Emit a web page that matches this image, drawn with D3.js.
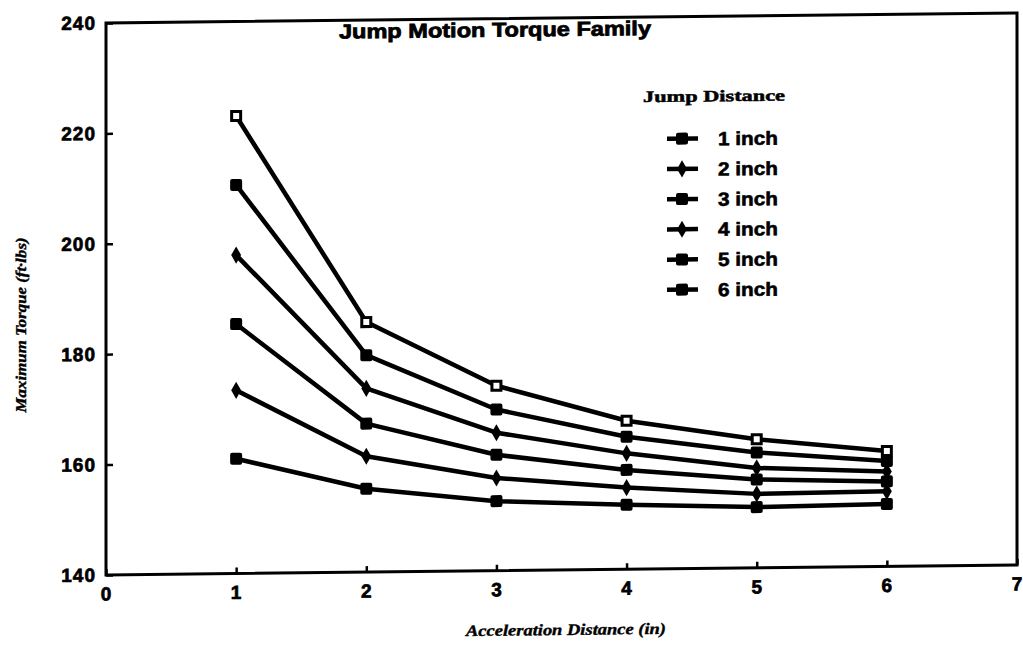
<!DOCTYPE html>
<meta charset="utf-8">
<head>
  <title>Jump Motion Torque Family</title>
  <script src="https://d3js.org/d3.v7.min.js"></script>
  <style>
    body {
      margin: 0;
      background-color: white;
    }
    .axis text {
      font-family: "Liberation Sans", Arial, sans-serif;
      font-weight: bold;
      font-size: 19px;
      letter-spacing: 1px;
      fill: black;
      stroke: black;
      stroke-width: 0.7px;
    }
    .axis line {
      stroke: black;
      stroke-width: 2.5px;
    }
    .axis path {
      display: none;
    }
    .serie {
      fill: none;
      stroke: black;
      stroke-width: 4.5px;
      stroke-linejoin: round;
    }
    .leg text {
      font-family: "Liberation Sans", Arial, sans-serif;
      font-weight: bold;
      font-size: 19px;
      stroke: black;
      stroke-width: 0.6px;
    }
  </style>
</head>
<body>
<script>
  // values
  var accel = [1, 2, 3, 4, 5, 6];
  var xTicks = [0, 1, 2, 3, 4, 5, 6, 7];
  var yTicks = [140, 160, 180, 200, 220, 240];
  var jumpNames = ["1 inch", "2 inch", "3 inch", "4 inch", "5 inch", "6 inch"];
  var jump1 = [160.8, 155.1, 152.6, 151.7, 151.0, 151.3];
  var jump2 = [173.2, 161.0, 156.8, 154.8, 153.4, 153.6];
  var jump3 = [185.2, 166.9, 161.0, 158.0, 156.0, 155.4];
  var jump4 = [197.7, 173.3, 165.0, 161.0, 158.1, 157.2];
  var jump5 = [210.4, 179.3, 169.2, 164.0, 160.9, 159.1];
  var jump6 = [222.9, 185.3, 173.5, 166.9, 163.3, 160.9];
  var series = [jump1, jump2, jump3, jump4, jump5, jump6];
  var markers = ["square", "diamond", "square", "diamond", "square", "open"];

  var margin = {top: 23, right: 6, bottom: 77, left: 106};
  var width = 1023 - margin.left - margin.right;
  var height = 652 - margin.top - margin.bottom;

  var svg = d3.select("body").append("svg")
    .attr("width", 1023)
    .attr("height", 652);

  // the scan is slightly tilted: right side sits higher
  var root = svg.append("g")
    .attr("transform", "translate(106,0) skewY(-0.63) translate(-106,0)");

  var g = root.append("g")
    .attr("transform", "translate(" + margin.left + "," + margin.top + ")");

  var x = d3.scaleLinear().domain([0, 7]).range([0, width]);
  var y = d3.scaleLinear().domain([140, 240]).range([height, 0]);

  g.append("g")
    .attr("class", "x axis")
    .attr("transform", "translate(0," + height + ")")
    .call(d3.axisBottom(x).tickValues(xTicks).tickSize(-6).tickPadding(12).tickFormat(d3.format("d")));

  g.append("g")
    .attr("class", "y axis")
    .call(d3.axisLeft(y).tickValues(yTicks).tickSize(-7).tickPadding(10));

  g.append("rect")
    .attr("width", width)
    .attr("height", height)
    .attr("fill", "none")
    .attr("stroke", "black")
    .attr("stroke-width", 3);

  var line = d3.line()
    .x(function(d, i) { return x(accel[i]); })
    .y(function(d) { return y(d); });

  function marker(sel, type) {
    if (type == "diamond") {
      sel.append("path")
        .attr("d", d3.symbol().type(d3.symbolDiamond).size(85))
        .attr("fill", "black");
    } else if (type == "open") {
      sel.append("rect")
        .attr("x", -4.5).attr("y", -4.5).attr("width", 9).attr("height", 9)
        .attr("fill", "white").attr("stroke", "black").attr("stroke-width", 3);
    } else {
      sel.append("rect")
        .attr("x", -6).attr("y", -6).attr("width", 12).attr("height", 12)
        .attr("rx", 2)
        .attr("fill", "black");
    }
  }

  series.forEach(function(s, k) {
    g.append("path")
      .attr("class", "serie")
      .attr("d", line(s));
    s.forEach(function(v, i) {
      var m = g.append("g")
        .attr("transform", "translate(" + x(accel[i]) + "," + y(v) + ")");
      marker(m, markers[k]);
    });
  });

  // title
  root.append("text")
    .attr("x", 495)
    .attr("y", 41)
    .attr("text-anchor", "middle")
    .attr("textLength", 312)
    .attr("lengthAdjust", "spacingAndGlyphs")
    .attr("stroke", "black")
    .attr("stroke-width", 0.8)
    .style("font-family", "Liberation Sans, Arial, sans-serif")
    .style("font-weight", "bold")
    .style("font-size", "20px")
    .text("Jump Motion Torque Family");

  // legend
  var leg = root.append("g").attr("class", "leg");
  leg.append("text")
    .attr("x", 643)
    .attr("y", 108)
    .attr("textLength", 142)
    .attr("lengthAdjust", "spacingAndGlyphs")
    .style("font-family", "Liberation Serif, serif")
    .style("font-weight", "bold")
    .style("font-size", "16px")
    .style("stroke-width", "0.5px")
    .text("Jump Distance");

  jumpNames.forEach(function(name, k) {
    var ly = 145 + k * 30.2;
    leg.append("line")
      .attr("x1", 667).attr("x2", 698)
      .attr("y1", ly).attr("y2", ly)
      .attr("stroke", "black").attr("stroke-width", 4.5);
    var m = leg.append("g").attr("transform", "translate(682," + ly + ")");
    marker(m, markers[k] == "open" ? "square" : markers[k]);
    leg.append("text")
      .attr("x", 718)
      .attr("y", ly + 7)
      .attr("textLength", 60)
      .attr("lengthAdjust", "spacingAndGlyphs")
      .text(name);
  });

  // axis titles
  root.append("text")
    .attr("transform", "translate(26,324) rotate(-90)")
    .attr("text-anchor", "middle")
    .attr("textLength", 175)
    .attr("lengthAdjust", "spacingAndGlyphs")
    .attr("stroke", "black")
    .attr("stroke-width", 0.4)
    .style("font-family", "Liberation Serif, serif")
    .style("font-style", "italic")
    .style("font-weight", "bold")
    .style("font-size", "15px")
    .text("Maximum Torque (ft·lbs)");

  root.append("text")
    .attr("x", 566)
    .attr("y", 640)
    .attr("text-anchor", "middle")
    .attr("textLength", 200)
    .attr("lengthAdjust", "spacingAndGlyphs")
    .attr("stroke", "black")
    .attr("stroke-width", 0.4)
    .style("font-family", "Liberation Serif, serif")
    .style("font-style", "italic")
    .style("font-weight", "bold")
    .style("font-size", "16px")
    .text("Acceleration Distance (in)");
</script>
</body>
